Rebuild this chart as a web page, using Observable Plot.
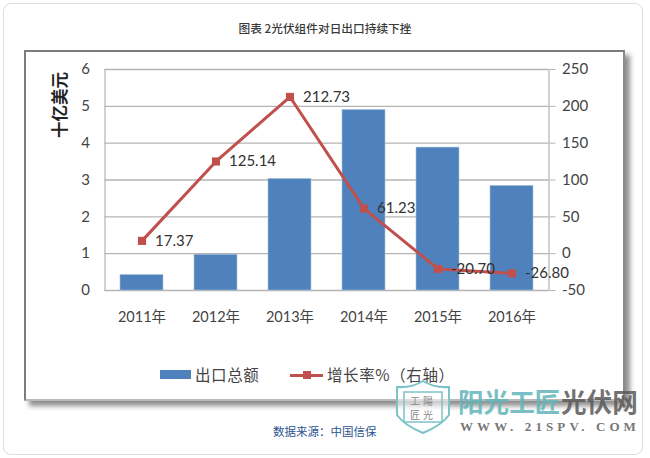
<!DOCTYPE html>
<html><head><meta charset="utf-8">
<script src="https://cdn.jsdelivr.net/npm/d3@7"></script>
<script src="https://cdn.jsdelivr.net/npm/@observablehq/plot@0.6"></script>
<style>
html,body{margin:0;padding:0;background:#fff;}
#page{position:relative;width:650px;height:458px;overflow:hidden;font-family:Lato,"Noto Sans CJK SC",sans-serif;}
#page div{position:absolute;white-space:nowrap;}
#card{left:3px;top:3px;width:638px;height:450px;border:1px solid #ddd;border-radius:8px;}
#box{left:24px;top:50px;width:597px;height:347px;background:#fff;border:2px solid #7c7c7c;border-bottom-color:#b9b9b9;border-right-color:#8a8a8a;box-shadow:5px 5px 5px #8f8f8f;}
#title{left:0;width:650px;top:19px;text-align:center;font:500 11.7px "Noto Sans CJK SC",sans-serif;color:#3a3a3a;}
#chart{left:0;top:0;}
#ylab{left:24px;top:93px;width:70px;text-align:center;transform:rotate(-90deg);font:700 16.5px/24px "Noto Sans CJK SC",sans-serif;color:#222;}
.leg{font:400 15.5px/20px "Noto Sans CJK SC",sans-serif;color:#444;letter-spacing:.6px;top:364px;}
#swatch{left:160px;top:370px;width:31px;height:9px;background:#4f81bd;}
#lline{left:290px;top:373.5px;width:33px;height:3px;background:#c0504d;}
#lmark{left:303px;top:371px;width:8px;height:8px;background:#c0504d;}
#source{left:273px;top:423px;font:400 11.5px/16px "Noto Sans CJK SC",sans-serif;color:#2a5490;}
#wm1{left:458px;top:383px;font:700 25.6px/36px "Noto Sans CJK SC",sans-serif;color:#62b5ba;opacity:.85;}
#wm2{left:561px;top:383px;font:700 25.6px/36px "Noto Sans CJK SC",sans-serif;color:#5a5a5a;opacity:.85;}
#wm3{left:460px;top:420px;font:700 13px/14px "Liberation Serif",serif;letter-spacing:4.1px;color:#777;}
#shield{left:394px;top:379px;}
</style></head>
<body>
<div id="page">
  <div id="card"></div>
  <div id="box"></div>
  <div id="title">图表 2光伏组件对日出口持续下挫</div>
  <div id="ylab">十亿美元</div>
  <div id="chart"></div>
  <div id="swatch"></div><div class="leg" style="left:195px">出口总额</div>
  <div id="lline"></div><div id="lmark"></div><div class="leg" style="left:327px">增长率%（右轴）</div>
  <div id="source">数据来源：中国信保</div>
  <div id="shield"><svg width="58" height="56" viewBox="0 0 58 56"><path d="M3 8 Q18 9 29 2 Q40 9 55 8 L55 36 Q48 46 29 54 Q10 46 3 36Z" fill="#fff" fill-opacity=".55" stroke="#7cc3c7" stroke-width="2"/><rect x="10" y="13" width="38" height="30" fill="none" stroke="#7cc3c7" stroke-width="1.5"/><text x="29" y="26" text-anchor="middle" font-family="Noto Sans CJK SC" font-size="10" fill="#888" letter-spacing="3">工陽</text><text x="29" y="40" text-anchor="middle" font-family="Noto Sans CJK SC" font-size="10" fill="#888" letter-spacing="3">匠光</text></svg></div>
  <div id="wm1">阳光工匠</div><div id="wm2">光伏网</div>
  <div id="wm3">WWW. 21SPV. COM</div>
</div>
<script>
const years = ["2011年","2012年","2013年","2014年","2015年","2016年"];
const exportsTotal = [0.42,0.97,3.03,4.90,3.88,2.84];
const growth = [17.37,125.14,212.73,61.23,-20.70,-26.80];
const growthLabels = ["17.37","125.14","212.73","61.23","-20.70","-26.80"];
const leftTicks = [0,1,2,3,4,5,6];
const rightTicks = [-50,0,50,100,150,200,250];

// right axis shares the left scale: -50..250 maps onto 0..6
const toLeft = v => (v + 50) / 50;
const rows = years.map((y,i)=>({year:y,total:exportsTotal[i],rate:toLeft(growth[i]),label:growthLabels[i]}));
const grey = "#b4b4b4";

const chart = Plot.plot({
  width:650, height:458,
  marginLeft:104.5, marginRight:101.5, marginTop:69, marginBottom:168,
  style:{background:"transparent",fontFamily:'Lato,"Noto Sans CJK SC",sans-serif',overflow:"visible"},
  x:{domain:years,paddingInner:0.42,paddingOuter:0.21,align:0.5,label:null},
  y:{domain:[0,6],label:null},
  marks:[
    Plot.ruleY(leftTicks,{stroke:grey,strokeWidth:1.4}),
    Plot.frame({anchor:"left",stroke:grey,strokeWidth:1.2}),
    Plot.frame({anchor:"right",stroke:grey,strokeWidth:1.2}),
    Plot.barY(rows,{x:"year",y:"total",fill:"#4f81bd",stroke:"#a9c1de",strokeWidth:0.6}),
    Plot.line(rows,{x:"year",y:"rate",stroke:"#c0504d",strokeWidth:3}),
    Plot.dot(rows,{x:"year",y:"rate",symbol:"square",r:4.6,fill:"#c0504d",stroke:"none"}),
    Plot.text(rows,{x:"year",y:"rate",text:"label",textAnchor:"start",dx:13,fontSize:15,fill:"#333"}),
    Plot.axisX({tickSize:0,tickPadding:21,fontSize:14.5,color:"#444",label:null}),
    Plot.axisY({anchor:"left",ticks:leftTicks,tickSize:0,tickPadding:15,fontSize:15,color:"#444",label:null,tickFormat:d=>d}),
    Plot.axisY({anchor:"right",ticks:rightTicks.map(toLeft),tickSize:6,tickPadding:7,fontSize:15,color:"#444",stroke:grey,label:null,tickFormat:d=>String(Math.round(d*50-50))})
  ]
});
document.getElementById("chart").appendChild(chart);
</script>
</body></html>
